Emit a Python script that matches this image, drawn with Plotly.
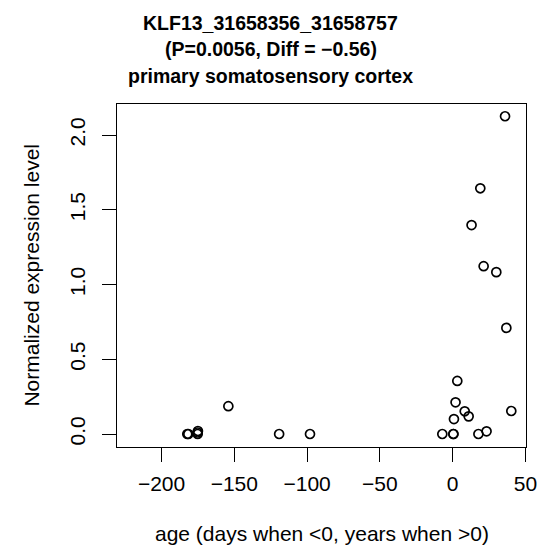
import plotly.graph_objects as go

age = [36.0, 19.0, 13.0, 21.3, 30.0, 36.9, 40.3, 3.2, 2.0, 8.3, 11.0, 0.9,
       23.3, 17.7, 0.5, 0.5, -7.1, -98.0, -119.2, -154.1, -182.3, -181.6,
       -175.2, -175.2, -175.0]
expr = [2.126, 1.644, 1.398, 1.123, 1.083, 0.710, 0.154, 0.355, 0.212, 0.152,
        0.118, 0.100, 0.018, 0.0, 0.0, 0.0, 0.0, 0.0, 0.0, 0.186, 0.0, 0.0,
        0.0, 0.01, 0.02]

x_ticks = [-200, -150, -100, -50, 0, 50]
x_tick_labels = ["\u2212200", "\u2212150", "\u2212100", "\u221250", "0", "50"]
y_ticks = [0.0, 0.5, 1.0, 1.5, 2.0]
y_tick_labels = ["0.0", "0.5", "1.0", "1.5", "2.0"]

title_lines = ["KLF13_31658356_31658757",
               "(P=0.0056, Diff = \u22120.56)",
               "primary somatosensory cortex"]
x_title = "age (days when <0, years when >0)"
y_title = "Normalized expression level"

FONT = "Liberation Sans, Arial, Helvetica, sans-serif"
W, H = 549, 555
L, R, T, B = 117, 13, 104, 108
plot_w = W - L - R
plot_h = H - T - B


def px_x(xp):
    return (xp - L) / plot_w


def px_y(yp):
    return (H - B - yp) / plot_h


fig = go.Figure()
fig.add_trace(go.Scatter(
    x=age, y=expr, mode="markers",
    marker=dict(symbol="circle-open", size=9, color="black",
                line=dict(width=1.7, color="black")),
    showlegend=False, hoverinfo="x+y"))

title_centers = [23, 49.5, 76]
annotations = []
for txt, yc in zip(title_lines, title_centers):
    annotations.append(dict(
        text=f"<b>{txt}</b>", x=px_x(W / 2), xref="paper", xanchor="center",
        y=px_y(yc), yref="paper", yanchor="middle", showarrow=False,
        font=dict(family=FONT, size=19.5, color="black")))
annotations.append(dict(
    text=x_title, x=0.5, xref="paper", xanchor="center",
    y=px_y(533), yref="paper", yanchor="middle", showarrow=False,
    font=dict(family=FONT, size=21, color="black")))
annotations.append(dict(
    text=y_title, x=px_x(29), xref="paper", xanchor="center",
    y=0.5, yref="paper", yanchor="middle", showarrow=False, textangle=-90,
    font=dict(family=FONT, size=21, color="black")))

fig.update_layout(
    width=W, height=H,
    margin=dict(l=L, r=R, t=T, b=B, pad=0),
    paper_bgcolor="white", plot_bgcolor="white",
    font=dict(family=FONT, color="black", size=21),
    annotations=annotations,
)

fig.update_xaxes(
    range=[-230.6, 50.4], tickvals=x_ticks, ticktext=x_tick_labels,
    ticks="outside", ticklen=14, tickwidth=1.3, tickcolor="black",
    showline=True, linecolor="black", linewidth=1.3, mirror=True,
    showgrid=False, zeroline=False, ticklabelstandoff=4,
    tickfont=dict(size=21),
)
fig.update_yaxes(
    range=[-0.087, 2.208], tickvals=y_ticks, ticktext=y_tick_labels,
    tickangle=-90,
    ticks="outside", ticklen=14, tickwidth=1.3, tickcolor="black",
    showline=True, linecolor="black", linewidth=1.3, mirror=True,
    showgrid=False, zeroline=False, ticklabelstandoff=8,
    tickfont=dict(size=21),
)

fig.write_html("out.html",
               config={"displayModeBar": False},
               post_script="document.body.style.margin='0';"
                           "document.body.style.padding='0';")
